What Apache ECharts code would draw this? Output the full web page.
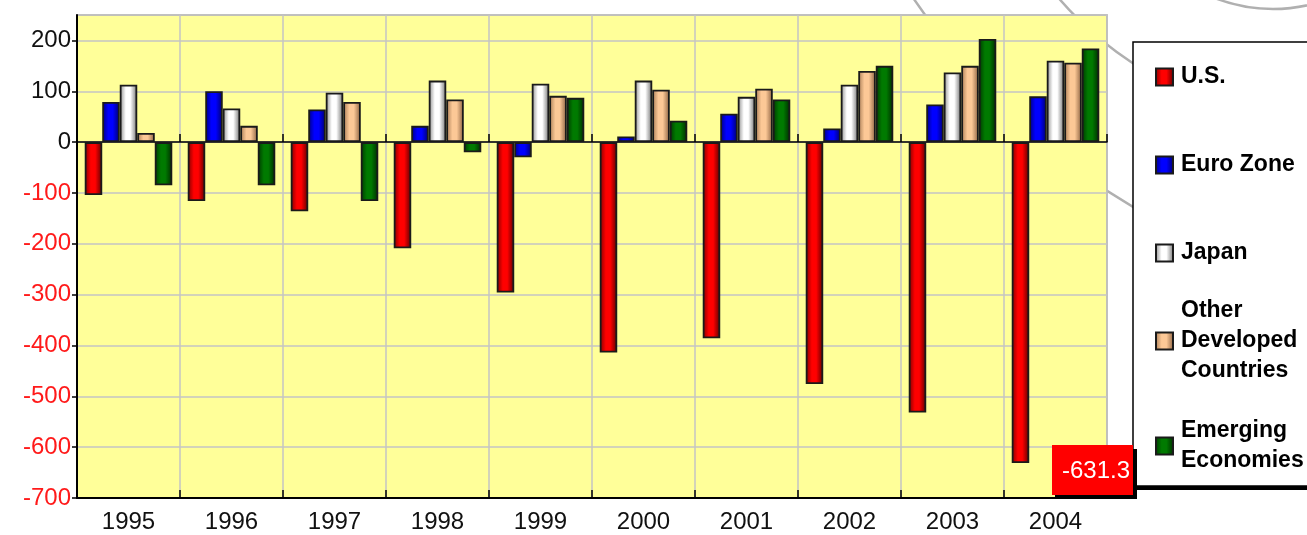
<!DOCTYPE html>
<html>
<head>
<meta charset="utf-8">
<script src="https://cdn.jsdelivr.net/npm/echarts@6/dist/echarts.min.js"></script>
<style>
  html, body { margin: 0; padding: 0; background: #fff; }
  #main { width: 1307px; height: 535px; }
</style>
</head>
<body>
<div id="main"></div>
<script>
// data (billions of US$)
var years = ['1995', '1996', '1997', '1998', '1999', '2000', '2001', '2002', '2003', '2004'];
var usVals = [-104, -116, -136, -209, -296, -414, -386, -476, -532, -631.3];
var euroVals = [79, 100, 64, 32, -30, 11, 56, 27, 74, 90];
var japanVals = [113, 66, 97, 121, 115, 121, 89, 113, 137, 160];
var otherVals = [18, 32, 79, 84, 91, 103, 105, 140, 150, 156];
var emergingVals = [-85, -85, -116, -20, 87, 42, 84, 150, 203, 184];
var seriesNames = ['U.S.', 'Euro Zone', 'Japan', 'Other\nDeveloped\nCountries', 'Emerging\nEconomies'];

var FONT = '"Liberation Sans", Arial, sans-serif';

function shade(dark, light, dark2) {
  return {
    type: 'linear', x: 0, y: 0, x2: 1, y2: 0,
    colorStops: [
      {offset: 0, color: dark},
      {offset: 0.35, color: light},
      {offset: 0.6, color: light},
      {offset: 1, color: dark2}
    ]
  };
}

var fills = [
  shade('#800000', '#ff0000', '#5a0000'),
  shade('#000080', '#0000ff', '#000066'),
  shade('#8c8c8c', '#ffffff', '#707070'),
  shade('#a87c55', '#fcc896', '#8a6040'),
  shade('#003800', '#007a00', '#002a00')
];
var allVals = [usVals, euroVals, japanVals, otherVals, emergingVals];

var series = allVals.map(function(vals, i) {
  return {
    name: seriesNames[i],
    type: 'bar',
    xAxisIndex: 0,
    data: vals,
    barGap: '0%',
    barCategoryGap: '15%',
    itemStyle: {color: fills[i], borderColor: '#1a1a1a', borderWidth: 1.8}
  };
});

// one legend per item so the spacing can follow the picture
var legendTops = [62, 150, 238, 296, 416];
var legends = seriesNames.map(function(n, i) {
  return {
    data: [{name: n, icon: 'rect'}],
    orient: 'vertical',
    left: 1155,
    top: legendTops[i],
    padding: 0,
    itemWidth: 17,
    itemHeight: 17,
    selectedMode: false,
    textStyle: {fontFamily: FONT, fontWeight: 'bold', fontSize: 23, color: '#000', lineHeight: 30, padding: [0, 0, 0, 3]}
  };
});

var chart = echarts.init(document.getElementById('main'), null, {renderer: 'canvas'});

chart.setOption({
  backgroundColor: '#ffffff',
  animation: false,
  grid: {
    left: 77, top: 15, right: 200, bottom: 37,
    show: true, backgroundColor: '#ffff99', borderColor: '#999999', borderWidth: 1.5
  },
  legend: legends,
  xAxis: [{
    type: 'category',
    data: years,
    position: 'bottom',
    axisLine: {onZero: false, lineStyle: {color: '#000', width: 2}},
    axisTick: {show: true, inside: true, length: 8, lineStyle: {color: '#000', width: 1.5}},
    axisLabel: {fontFamily: FONT, fontSize: 24, color: '#111', margin: 12},
    splitLine: {show: true, lineStyle: {color: '#c4c4c4', width: 1.5}}
  }, {
    // the zero line with its small ticks
    type: 'category',
    data: years,
    position: 'top',
    axisLine: {onZero: true, lineStyle: {color: '#000', width: 1.5}},
    axisTick: {show: true, inside: false, length: 8, lineStyle: {color: '#000', width: 1.5}},
    axisLabel: {show: false},
    splitLine: {show: false}
  }],
  yAxis: {
    type: 'value',
    min: -700,
    max: 250,
    interval: 100,
    axisLine: {show: true, lineStyle: {color: '#000', width: 2}},
    axisTick: {show: true, length: 5, lineStyle: {color: '#000', width: 1.5}},
    axisLabel: {
      fontFamily: FONT, fontSize: 24, margin: 6,
      color: function(v) { return Number(v) < 0 ? '#ff1a1a' : '#111'; },
      showMaxLabel: false
    },
    splitLine: {show: true, lineStyle: {color: '#c4c4c4', width: 1.5}}
  },
  series: series,
  graphic: [
    // faint decorative rings behind everything
    {type: 'circle', z: -10, silent: true, shape: {cx: 1321, cy: -226, r: 345}, style: {fill: 'none', stroke: '#b0b0b0', lineWidth: 2.5}},
    {type: 'circle', z: -10, silent: true, shape: {cx: 1480, cy: -378, r: 680}, style: {fill: 'none', stroke: '#b0b0b0', lineWidth: 2.5}},
    {type: 'circle', z: -10, silent: true, shape: {cx: 1273, cy: -151, r: 160}, style: {fill: 'none', stroke: '#b0b0b0', lineWidth: 2.5}},
    // legend box with its shadow
    {type: 'rect', z: 2, silent: true, shape: {x: 1137, y: 47, width: 200, height: 443}, style: {fill: '#000'}},
    {type: 'rect', z: 3, silent: true, shape: {x: 1133, y: 42, width: 200, height: 444}, style: {fill: '#fff', stroke: '#000', lineWidth: 1.5}},
    // callout for the last U.S. value
    {type: 'rect', z: 20, silent: true, shape: {x: 1055, y: 449, width: 82, height: 50}, style: {fill: '#000'}},
    {type: 'rect', z: 21, silent: true, shape: {x: 1052, y: 445, width: 81, height: 50}, style: {fill: '#ff0000'}},
    {type: 'text', z: 22, silent: true, x: 1096, y: 471,
      style: {text: usVals[usVals.length - 1].toFixed(1), fill: '#fff', font: '24px ' + FONT, align: 'center', verticalAlign: 'middle'}}
  ]
});
</script>
</body>
</html>
